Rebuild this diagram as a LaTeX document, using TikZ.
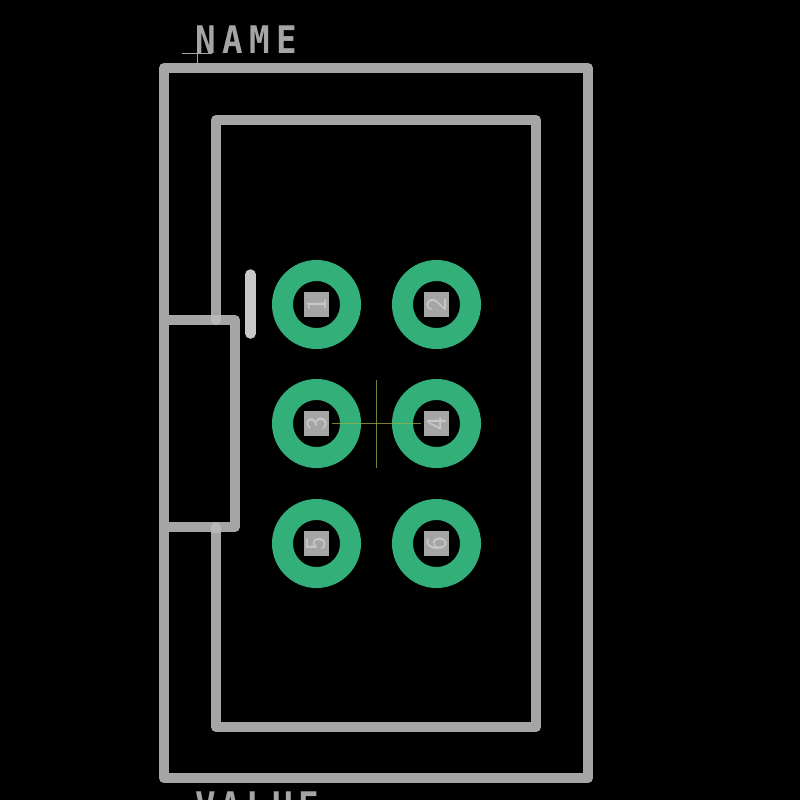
\documentclass[tikz,border=0pt]{standalone}
\usepackage{fontspec}
\newfontfamily\silkfont[LetterSpace=17,FakeStretch=0.9]{DejaVu Sans Mono Bold}
\newfontfamily\silkfontb[LetterSpace=13.5,FakeStretch=0.9]{DejaVu Sans Mono Bold}
\newfontfamily\pinfont{Latin Modern Sans}
\definecolor{silk}{HTML}{A5A5A5}
\definecolor{silkhi}{HTML}{B8B8B8}
\definecolor{barcol}{HTML}{C8C8C8}
\definecolor{padgreen}{HTML}{33B07A}
\definecolor{crosscol}{HTML}{9AAE3E}
\tikzset{
  outline/.style={draw=silk,line width=10pt,line join=round,line cap=round},
  padring/.style={circle,draw=padgreen,line width=21pt,minimum size=68pt,inner sep=0pt,fill=black},
  drillsq/.style={rectangle,fill=silk,minimum size=25pt,inner sep=0pt},
  pinlabel/.style={text=barcol,rotate=90,inner sep=0pt,font=\pinfont\fontsize{29}{29}\selectfont},
  silktext/.style={text=silk,anchor=base west,inner sep=0pt},
  hairline/.style={draw=silk,line width=1pt},
  crossline/.style={draw=crosscol,line width=1pt,opacity=.75}
}
\begin{document}
\begin{tikzpicture}[x=1pt,y=-1pt]
\useasboundingbox (0,0) rectangle (800,800);
\clip (0,0) rectangle (800,800);
\fill[black] (0,0) rectangle (800,800);
% board outlines
\draw[outline] (164,68) rectangle (588,778);
\draw[outline] (216,320) -- (216,120) -- (536,120) -- (536,727) -- (216,727) -- (216,527);
\draw[outline] (164,320) -- (235,320) -- (235,527) -- (164,527);
\begin{scope}
  \clip (205,315) rectangle (227,325);
  \draw[line width=10pt,line cap=round,draw=silkhi] (216,320) -- (216,300);
\end{scope}
\begin{scope}
  \clip (205,522) rectangle (227,532);
  \draw[line width=10pt,line cap=round,draw=silkhi] (216,527) -- (216,547);
\end{scope}
\draw[line width=10.5pt,line cap=round,draw=barcol] (250.5,274.5) -- (250.5,333.5);
% pads
\foreach \n/\x/\y in {1/316.5/304.5,2/436.5/304.5,3/316.5/423.5,4/436.5/423.5,5/316.5/543.5,6/436.5/543.5}{
  \node[padring] (ring\n) at (\x,\y) {};
  \node[drillsq] (sq\n) at (\x,\y) {};
  \node[pinlabel] (pin\n) at (\x,\y) {\n};
}
% origin crosses
\draw[crossline] (376.5,380) -- (376.5,467.5);
\draw[crossline] (332,423.5) -- (421,423.5);
\draw[hairline] (182,53.3) -- (212,53.3);
\draw[hairline] (197.3,38) -- (197.3,68);
% texts
\node[silktext,font=\silkfont\fontsize{38}{38}\selectfont] (nametext) at (195,53) {NAME};
\node[silktext,font=\silkfontb\fontsize{38}{38}\selectfont] (valuetext) at (195,819) {VALUE};
\end{tikzpicture}
\end{document}
